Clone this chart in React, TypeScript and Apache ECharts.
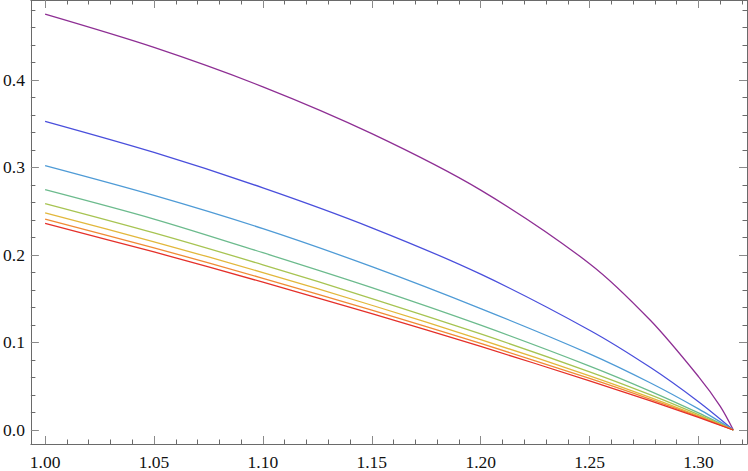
import React, { useEffect, useRef } from "react";
import * as echarts from "echarts";

const xs = [1.0, 1.05, 1.1, 1.15, 1.2, 1.25, 1.278, 1.3, 1.316];
const purpleXs = [1.0, 1.05, 1.1, 1.15, 1.2, 1.25, 1.278, 1.3, 1.31, 1.316];

const purple = [0.475, 0.437, 0.392, 0.3385, 0.274, 0.19, 0.125, 0.061, 0.027, 0];
const blue = [0.3525, 0.317, 0.2766, 0.231, 0.178, 0.114, 0.0713, 0.0323, 0];
const lightBlue = [0.302, 0.268, 0.23, 0.1866, 0.1387, 0.087, 0.0537, 0.0241, 0];
const green = [0.2746, 0.241, 0.2025, 0.1626, 0.1197, 0.073, 0.0442, 0.0195, 0];
const yellowGreen = [0.2587, 0.2252, 0.1887, 0.1502, 0.1097, 0.0665, 0.0401, 0.0176, 0];
const yellow = [0.248, 0.215, 0.1798, 0.1425, 0.1033, 0.0619, 0.037, 0.0161, 0];
const orange = [0.2408, 0.2081, 0.1733, 0.1369, 0.0989, 0.0589, 0.0351, 0.0153, 0];
const red = [0.2359, 0.2034, 0.1689, 0.1329, 0.0954, 0.0562, 0.0332, 0.0143, 0];

const xMajor = [1.0, 1.05, 1.1, 1.15, 1.2, 1.25, 1.3];
const xMinor = [1.01, 1.02, 1.03, 1.04, 1.06, 1.07, 1.08, 1.09, 1.11, 1.12, 1.13, 1.14, 1.16, 1.17, 1.18, 1.19, 1.21, 1.22, 1.23, 1.24, 1.26, 1.27, 1.28, 1.29, 1.31, 1.32];
const yMajor = [0.0, 0.1, 0.2, 0.3, 0.4];
const yMinor = [0.02, 0.04, 0.06, 0.08, 0.12, 0.14, 0.16, 0.18, 0.22, 0.24, 0.26, 0.28, 0.32, 0.34, 0.36, 0.38, 0.42, 0.44, 0.46, 0.48];

const seriesList = [
  { name: "a", xv: purpleXs, yv: purple, color: "#8e2f94" },
  { name: "b", xv: xs, yv: blue, color: "#4a4fdc" },
  { name: "c", xv: xs, yv: lightBlue, color: "#4f9bd6" },
  { name: "d", xv: xs, yv: green, color: "#6cbb8d" },
  { name: "e", xv: xs, yv: yellowGreen, color: "#a7c452" },
  { name: "f", xv: xs, yv: yellow, color: "#e2b83c" },
  { name: "g", xv: xs, yv: orange, color: "#f08a35" },
  { name: "h", xv: xs, yv: red, color: "#e5302a" },
];

const X_MIN = 0.99346;
const X_MAX = 1.32227;
const Y_MIN = -0.016;
const Y_MAX = 0.4912;

const FONT = "Liberation Serif";
const FRAME = "#6a6a6a";

export default function App() {
  const ref = useRef<HTMLDivElement>(null);
  useEffect(() => {
    if (!ref.current) return;
    const chart = echarts.init(ref.current, undefined, { renderer: "svg" });
    const xBase = (position: string, major: boolean) => ({
      type: "value",
      position,
      min: X_MIN,
      max: X_MAX,
      axisLine: { show: major, onZero: false, lineStyle: { color: FRAME, width: 1 } },
      axisTick: {
        show: true,
        inside: true,
        length: major ? 8 : 4.5,
        customValues: major ? xMajor : xMinor,
        lineStyle: { color: major ? "#8a8a8a" : FRAME, width: 1 },
      },
      axisLabel: {
        show: major && position === "bottom",
        customValues: xMajor,
        formatter: (v: number) => v.toFixed(2),
        fontFamily: FONT,
        fontSize: 17.5,
        color: "#111",
        margin: 9,
      },
      splitLine: { show: false },
    });
    const yBase = (position: string, major: boolean) => ({
      type: "value",
      position,
      min: Y_MIN,
      max: Y_MAX,
      axisLine: { show: major, onZero: false, lineStyle: { color: FRAME, width: 1 } },
      axisTick: {
        show: true,
        inside: true,
        length: major ? 8 : 4.5,
        customValues: major ? yMajor : yMinor,
        lineStyle: { color: major ? "#8a8a8a" : FRAME, width: 1 },
      },
      axisLabel: {
        show: major && position === "left",
        customValues: yMajor,
        formatter: (v: number) => v.toFixed(1),
        fontFamily: FONT,
        fontSize: 17.5,
        color: "#111",
        margin: 6,
      },
      splitLine: { show: false },
    });
    chart.setOption({
      animation: false,
      backgroundColor: "#ffffff",
      grid: { left: 28, right: 1, top: 0, bottom: 26, containLabel: false },
      xAxis: [xBase("bottom", true), xBase("bottom", false), xBase("top", true), xBase("top", false)],
      yAxis: [yBase("left", true), yBase("left", false), yBase("right", true), yBase("right", false)],
      series: seriesList.map((s) => ({
        type: "line",
        name: s.name,
        xAxisIndex: 0,
        yAxisIndex: 0,
        data: s.xv.map((x, i) => [x, s.yv[i]]),
        showSymbol: false,
        smooth: 0.3,
        smoothConstraint: false,
        lineStyle: { color: s.color, width: 1.3 },
        itemStyle: { color: s.color },
      })),
    });
    return () => chart.dispose();
  }, []);
  return <div ref={ref} style={{ width: 748, height: 471, position: "absolute", left: 0, top: 0 }} />;
}
